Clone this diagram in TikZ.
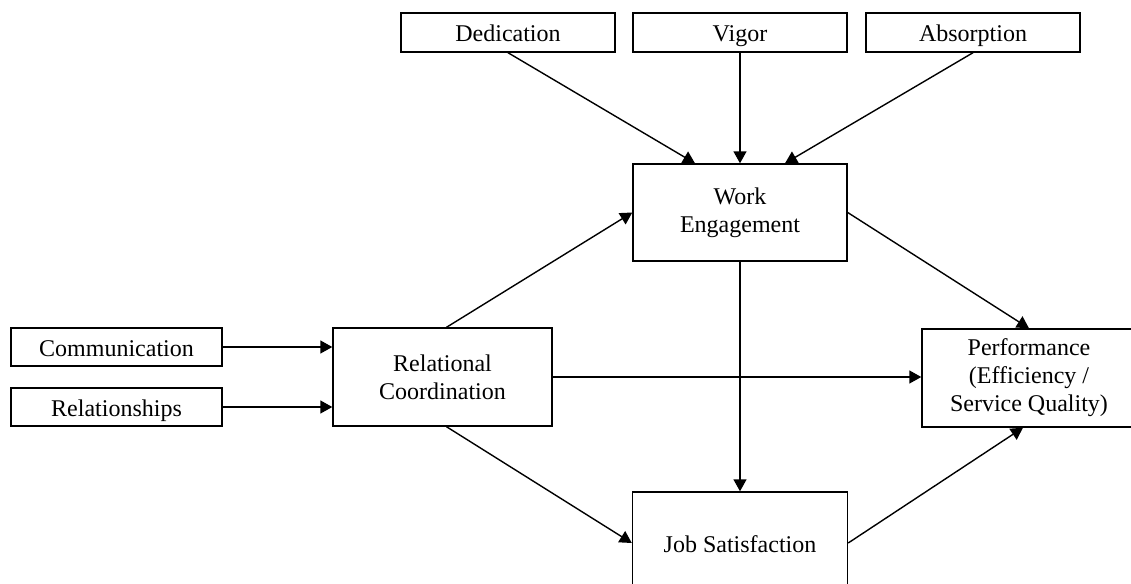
\documentclass[tikz,border=0pt]{standalone}
\usepackage{fontspec}
\setmainfont{Liberation Serif}
\usetikzlibrary{arrows.meta}
\begin{document}
\begin{tikzpicture}[x=0.5pt,y=-0.5pt,
  box/.style={draw, line width=0.7pt, rectangle, align=center, inner sep=0pt,
    font=\fontsize{12}{14}\selectfont},
  single/.style={text height=9.4pt, text depth=0pt},
  arr/.style={line width=0.7pt, -{Triangle[length=6pt,width=6.5pt]}}]
\useasboundingbox (0,0) rectangle (1131,584);
\node[box, single, minimum width=107pt, minimum height=19.5pt] (ded) at (508,32.5) {Dedication};
\node[box, single, minimum width=107pt, minimum height=19.5pt] (vig) at (740,32.5) {Vigor};
\node[box, single, minimum width=107pt, minimum height=19.5pt] (abs) at (973,32.5) {Absorption};
\node[box, minimum width=107pt, minimum height=48.5pt] (we) at (740,212.5) {Work\\Engagement};
\node[box, single, minimum width=105.5pt, minimum height=19pt] (com) at (116.5,347) {Communication};
\node[box, single, minimum width=105.5pt, minimum height=19pt] (rel) at (116.5,407) {Relationships};
\node[box, minimum width=109.5pt, minimum height=49pt] (rc) at (442.5,377) {Relational\\Coordination};
\node[box, minimum width=107pt, minimum height=49pt] (perf) at (1029,378) {Performance\\(Efficiency /\\Service Quality)};
\node[box, single, minimum width=107.5pt, minimum height=51pt] (js) at (740,543) {Job Satisfaction};
\draw[arr] (ded.south) -- ([xshift=-22.5pt]we.north);
\draw[arr] (vig.south) -- (we.north);
\draw[arr] (abs.south) -- ([xshift=22.5pt]we.north);
\draw[arr] ([xshift=2pt]rc.north) -- (we.west);
\draw[arr] (com.east) -- (rc.west |- com.east);
\draw[arr] (rel.east) -- (rc.west |- rel.east);
\draw[arr] (rc.east) -- (perf.west |- rc.east);
\draw[arr] (we.east) -- (perf.north);
\draw[arr] (we.south) -- (js.north);
\draw[arr] ([xshift=2pt]rc.south) -- (js.west);
\draw[arr] (js.east) -- ([xshift=-3pt]perf.south);
\end{tikzpicture}
\end{document}
